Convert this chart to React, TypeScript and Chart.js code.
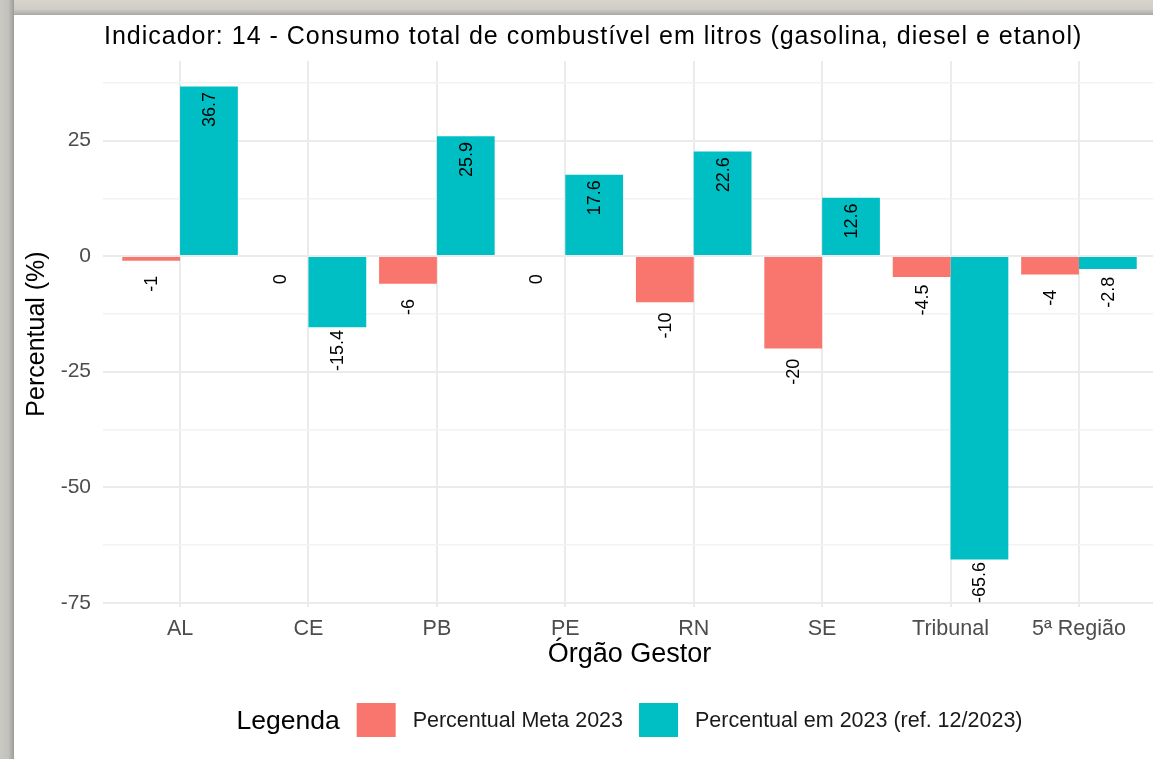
import React, { useEffect, useRef } from "react";
import { Chart, registerables } from "chart.js";

Chart.register(...registerables);

const categories = ["AL", "CE", "PB", "PE", "RN", "SE", "Tribunal", "5ª Região"];
const metaValues = [-1, 0, -6, 0, -10, -20, -4.5, -4];
const actualValues = [36.7, -15.4, 25.9, 17.6, 22.6, 12.6, -65.6, -2.8];
const yTickValues = [-75, -62.5, -50, -37.5, -25, -12.5, 0, 12.5, 25, 37.5];
const seriesNames = ["Percentual Meta 2023", "Percentual em 2023 (ref. 12/2023)"];
const seriesColors = ["#F8766D", "#00BFC4"];
const titleText =
  "Indicador: 14 - Consumo total de combustível em litros (gasolina, diesel e etanol)";
const xTitle = "Órgão Gestor";
const yTitle = "Percentual (%)";
const legendTitle = "Legenda";

const FONT = '"Liberation Sans", Arial, sans-serif';
const CANVAS_W = 1170;
const CANVAS_H = 759;

const overlayPlugin = {
  id: "overlay",
  afterDatasetsDraw(chart: any) {
    const ctx = chart.ctx;
    const yScale = chart.scales.y;
    ctx.save();
    ctx.font = `18px ${FONT}`;
    ctx.fillStyle = "#000000";
    ctx.textAlign = "center";
    ctx.textBaseline = "middle";
    chart.data.datasets.forEach((ds: any, di: number) => {
      const meta = chart.getDatasetMeta(di);
      meta.data.forEach((el: any, i: number) => {
        const v = ds.data[i].y;
        const py = yScale.getPixelForValue(v - 5);
        ctx.save();
        ctx.translate(el.x, py);
        ctx.rotate(-Math.PI / 2);
        ctx.fillText(String(v), 0, 1);
        ctx.restore();
      });
    });
    ctx.restore();
  },
  afterDraw(chart: any) {
    const ctx = chart.ctx;
    const area = chart.chartArea;
    const cx = (area.left + area.right) / 2;
    ctx.save();
    // title
    ctx.fillStyle = "#000000";
    ctx.font = `25px ${FONT}`;
    (ctx as any).letterSpacing = "1px";
    ctx.textAlign = "left";
    ctx.textBaseline = "alphabetic";
    ctx.fillText(titleText, area.left + 1, 44);
    (ctx as any).letterSpacing = "0px";
    // x title
    ctx.font = `27px ${FONT}`;
    ctx.textAlign = "center";
    ctx.fillText(xTitle, cx, 662);
    // y title
    ctx.save();
    ctx.font = `25px ${FONT}`;
    ctx.translate(44, (area.top + area.bottom) / 2);
    ctx.rotate(-Math.PI / 2);
    ctx.textAlign = "center";
    ctx.fillText(yTitle, 0, 0);
    ctx.restore();
    // legend
    const titleFont = `26.5px ${FONT}`;
    const labelFont = `21.5px ${FONT}`;
    const boxW = 39;
    const boxH = 34;
    ctx.font = titleFont;
    const tW = ctx.measureText(legendTitle).width;
    ctx.font = labelFont;
    const lW = seriesNames.map((n) => ctx.measureText(n).width);
    const total = tW + 17 + boxW + 17 + lW[0] + 16 + boxW + 17 + lW[1];
    let x = cx - total / 2;
    ctx.textAlign = "left";
    ctx.font = titleFont;
    ctx.fillStyle = "#000000";
    ctx.fillText(legendTitle, x, 729);
    x += tW + 17;
    seriesNames.forEach((name, i) => {
      ctx.fillStyle = seriesColors[i];
      ctx.fillRect(x, 703, boxW, boxH);
      x += boxW + 17;
      ctx.fillStyle = "#1A1A1A";
      ctx.font = labelFont;
      ctx.fillText(name, x, 727);
      x += lW[i] + 16;
    });
    ctx.restore();
  },
};

export default function App() {
  const canvasRef = useRef<HTMLCanvasElement | null>(null);

  useEffect(() => {
    document.body.style.margin = "0";
    document.body.style.overflow = "hidden";
    const canvas = canvasRef.current;
    if (!canvas) return;
    const chart = new Chart(canvas, {
      type: "bar",
      data: {
        datasets: [
          {
            label: seriesNames[0],
            data: metaValues.map((y, i) => ({ x: i, y })),
            backgroundColor: seriesColors[0],
            borderWidth: 0,
            categoryPercentage: 0.9,
            barPercentage: 1,
          },
          {
            label: seriesNames[1],
            data: actualValues.map((y, i) => ({ x: i, y })),
            backgroundColor: seriesColors[1],
            borderWidth: 0,
            categoryPercentage: 0.9,
            barPercentage: 1,
          },
        ] as any,
      },
      options: {
        responsive: false,
        animation: false,
        devicePixelRatio: 1,
        layout: { padding: { left: 0, right: 14, top: 61, bottom: 112 } },
        plugins: {
          legend: { display: false },
          title: { display: false },
          tooltip: { enabled: false },
        },
        scales: {
          x: {
            type: "linear",
            offset: false,
            min: -0.6,
            max: 7.6,
            afterBuildTicks: (s: any) => {
              s.ticks = categories.map((_, i) => ({ value: i }));
            },
            afterFit: (s: any) => {
              s.height = 40;
            },
            ticks: {
              autoSkip: false,
              maxRotation: 0,
              minRotation: 0,
              padding: 9,
              color: "#4D4D4D",
              font: { family: FONT, size: 21.5 },
              callback: (v: any) => categories[v] ?? "",
            },
            grid: { color: "#EBEBEB", lineWidth: 2, drawTicks: false, offset: false },
            border: { display: false },
          },
          y: {
            type: "linear",
            min: -75.9,
            max: 42.2,
            afterBuildTicks: (s: any) => {
              s.ticks = yTickValues.map((v) => ({ value: v }));
            },
            afterFit: (s: any) => {
              s.width = 103;
            },
            ticks: {
              autoSkip: false,
              padding: 12,
              color: "#4D4D4D",
              font: { family: FONT, size: 21 },
              callback: (v: any) => (v % 25 === 0 ? String(v) : ""),
            },
            grid: {
              color: (c: any) =>
                c.tick && c.tick.value % 25 === 0 ? "#EBEBEB" : "#F2F2F2",
              lineWidth: (c: any) => (c.tick && c.tick.value % 25 === 0 ? 2 : 1.5),
              drawTicks: false,
            },
            border: { display: false },
          },
        },
      } as any,
      plugins: [overlayPlugin],
    });
    return () => chart.destroy();
  }, []);

  return (
    <div
      style={{
        position: "fixed",
        left: 0,
        top: 0,
        width: 1153,
        height: 759,
        overflow: "hidden",
        background: "#ffffff",
      }}
    >
      <div
        style={{
          position: "absolute",
          left: 0,
          top: 0,
          width: 1153,
          height: 15,
          background:
            "linear-gradient(to bottom, #d6d4cc 0%, #cfcdc5 60%, #a9a8a2 100%)",
        }}
      />
      <div
        style={{
          position: "absolute",
          left: 0,
          top: 0,
          width: 14,
          height: 759,
          background:
            "linear-gradient(to right, #c9c8c2 0%, #c2c1bb 60%, #9d9c97 100%)",
        }}
      />
      <canvas
        ref={canvasRef}
        width={CANVAS_W}
        height={CANVAS_H}
        style={{ position: "absolute", left: 0, top: 0, width: CANVAS_W, height: CANVAS_H }}
      />
    </div>
  );
}
